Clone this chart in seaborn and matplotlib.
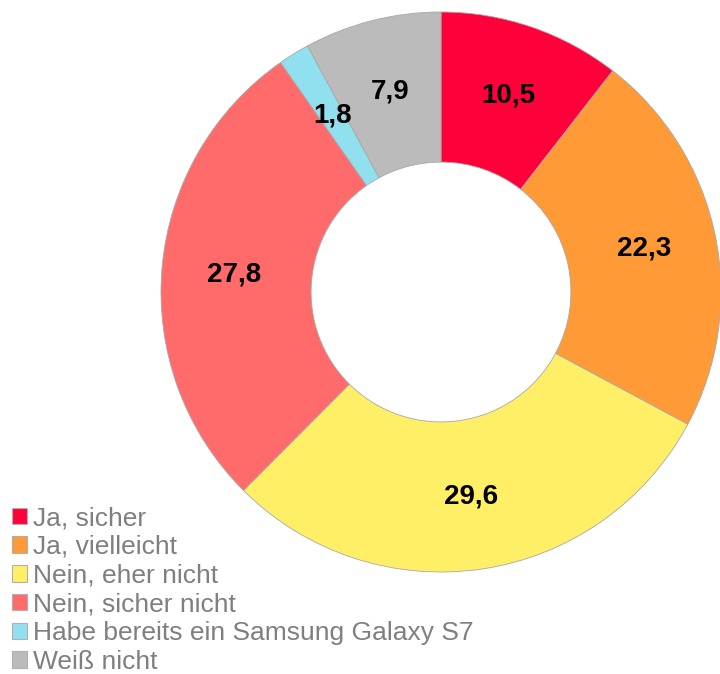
import matplotlib
matplotlib.use("Agg")
import matplotlib.pyplot as plt
import seaborn as sns
from matplotlib.patches import Patch

# survey answers
categories = ["Ja, sicher", "Ja, vielleicht", "Nein, eher nicht", "Nein, sicher nicht",
              "Habe bereits ein Samsung Galaxy S7", "Weiß nicht"]
values = [10.5, 22.3, 29.6, 27.8, 1.8, 7.9]
colors = ["#FF003B", "#FF9A36", "#FFEF66", "#FF6B6B", "#90E0EF", "#BBBBBB"]

sns.set_theme(style="white")
plt.rcParams["font.family"] = ["Liberation Sans", "DejaVu Sans"]

fig = plt.figure(figsize=(7.2, 6.74), dpi=100)
ax = fig.add_axes([161 / 720, 102 / 674, 560 / 720, 560 / 674])

vals_iter = iter(values)
def fmt(pct):
    return f"{next(vals_iter):.1f}".replace(".", ",")

wedges, texts, autotexts = ax.pie(
    values, colors=colors, startangle=90, counterclock=False,
    autopct=fmt, pctdistance=0.74,
    wedgeprops=dict(width=0.536, edgecolor="#A8A8A8", linewidth=0.6),
    textprops=dict(fontsize=20, fontweight="bold", color="black"),
)
ax.set_xlim(-1, 1)
ax.set_ylim(-1, 1)
ax.set_aspect("equal")

handles = [Patch(facecolor=c, edgecolor="#B0B0B0", linewidth=0.8) for c in colors]
leg = fig.legend(handles, categories, loc="upper left", bbox_to_anchor=(12 / 720, 0.249),
                 frameon=False, fontsize=19, handlelength=0.58, handleheight=0.58,
                 handletextpad=0.2, labelspacing=0.18, borderpad=0, borderaxespad=0)
for t in leg.get_texts():
    t.set_color("#7F7F7F")

fig.savefig("out.png", dpi=100)
